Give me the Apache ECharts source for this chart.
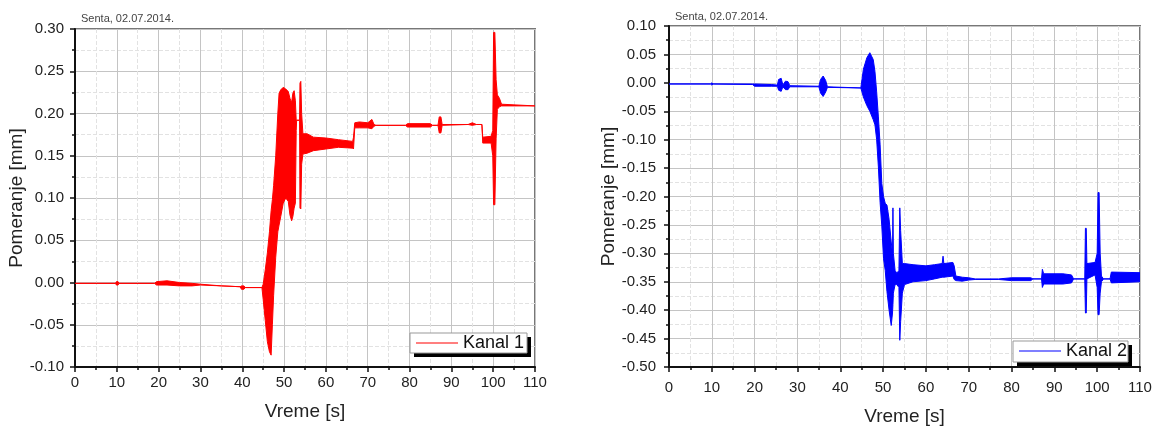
<!DOCTYPE html>
<html>
<head>
<meta charset="utf-8">
<script src="https://cdn.jsdelivr.net/npm/echarts@6/dist/echarts.min.js"></script>
<style>
  html, body { margin: 0; padding: 0; background: #fff; }
  #chart { width: 1158px; height: 431px; }
</style>
</head>
<body>
<div id="chart"></div>
<script>
// Kanal 1: time [s] with upper / lower envelope of the displacement [mm]
const k1Time = [0, 9.7, 9.9, 10.3, 10.5, 19, 19.5, 22, 25, 28, 30, 35, 39.5, 39.8, 40.4, 40.7, 44.7,
  45.0, 45.5, 46.0, 46.5, 46.9, 47.2, 47.5, 48.0, 48.5, 48.8, 49.2, 49.8, 50.4, 51.0, 51.4, 51.8, 52.1, 52.4, 52.7, 52.9,
  53.0, 53.7, 53.8, 54.0, 54.2, 54.5, 55.5, 57, 60, 63, 66.4, 66.6, 66.9, 68, 70, 71, 71.5, 72, 79, 79.5, 85, 85.5,
  86.8, 87.1, 87.5, 87.8, 94, 95, 96, 97.3, 97.5, 99.5, 99.9, 100.1, 100.4, 100.7, 101.0, 101.5, 102, 110];
const k1Upper = [-0.001, -0.001, 0.001, 0.001, -0.001, -0.001, 0.001, 0.002, 0.000, -0.001, -0.002, -0.004, -0.005, -0.004, -0.004, -0.006, -0.006,
  -0.002, 0.015, 0.035, 0.060, 0.085, 0.098, 0.115, 0.150, 0.200, 0.224, 0.228, 0.231, 0.229, 0.226, 0.218, 0.213, 0.224, 0.227, 0.215, 0.192,
  0.192, 0.192, 0.236, 0.238, 0.200, 0.176, 0.176, 0.172, 0.171, 0.169, 0.167, 0.172, 0.189, 0.190, 0.189, 0.193, 0.187, 0.186, 0.186, 0.188, 0.188, 0.186,
  0.186, 0.196, 0.196, 0.187, 0.187, 0.189, 0.187, 0.187, 0.172, 0.173, 0.180, 0.296, 0.296, 0.240, 0.222, 0.218, 0.211, 0.209];
const k1Lower = [-0.001, -0.001, -0.003, -0.003, -0.001, -0.001, -0.003, -0.003, -0.004, -0.004, -0.003, -0.004, -0.005, -0.008, -0.008, -0.006, -0.006,
  -0.020, -0.045, -0.070, -0.082, -0.086, -0.050, -0.015, 0.030, 0.060, 0.068, 0.078, 0.094, 0.100, 0.096, 0.080, 0.073, 0.078, 0.088, 0.094, 0.180,
  0.192, 0.192, 0.088, 0.087, 0.140, 0.152, 0.153, 0.156, 0.158, 0.160, 0.159, 0.158, 0.183, 0.183, 0.183, 0.182, 0.185, 0.186, 0.186, 0.184, 0.184, 0.186,
  0.186, 0.177, 0.177, 0.186, 0.187, 0.186, 0.187, 0.187, 0.165, 0.165, 0.150, 0.092, 0.092, 0.170, 0.205, 0.208, 0.209, 0.209];

// Kanal 2
const k2Time = [0, 9.7, 10, 10.3, 19.5, 20, 24, 25.3, 25.6, 26.2, 26.6, 27.2, 27.8, 28.2, 35.0, 35.4, 36.0, 36.6, 37.0, 44.8,
  45.4, 46.2, 46.9, 47.7, 48.1, 48.5, 48.9, 49.3, 49.7, 50.1, 50.5, 50.9, 51.4, 51.9, 52.2, 52.3, 52.4, 52.8, 53.2, 53.7, 53.9, 54.1, 54.5,
  55, 57, 60, 62, 63.8, 64.0, 64.2, 66.3, 66.6, 67, 68.5, 70, 71.5, 77, 80, 84.5, 85, 87.0, 87.2, 87.5, 92, 94, 94.5,
  97.1, 97.25, 97.45, 97.6, 99.5, 100.0, 100.2, 100.45, 100.7, 101.0, 101.5, 103, 103.3, 110];
const k2Upper = [-0.002, -0.002, 0.000, -0.002, -0.002, -0.002, -0.003, -0.004, 0.006, 0.008, -0.004, 0.003, 0.002, -0.005, -0.006, 0.006, 0.012, 0.004, -0.007, -0.009,
  0.024, 0.044, 0.053, 0.041, 0.020, -0.016, -0.060, -0.108, -0.177, -0.200, -0.212, -0.215, -0.240, -0.280, -0.300, -0.220, -0.300, -0.330, -0.335, -0.330, -0.220, -0.260, -0.318,
  -0.318, -0.320, -0.322, -0.320, -0.318, -0.305, -0.318, -0.316, -0.322, -0.340, -0.342, -0.343, -0.345, -0.345, -0.343, -0.343, -0.345, -0.345, -0.328, -0.336, -0.336, -0.338, -0.345,
  -0.345, -0.256, -0.256, -0.318, -0.316, -0.300, -0.193, -0.193, -0.300, -0.340, -0.345, -0.345, -0.333, -0.334];
const k2Lower = [-0.002, -0.002, -0.004, -0.002, -0.003, -0.006, -0.006, -0.006, -0.013, -0.015, -0.007, -0.012, -0.012, -0.007, -0.007, -0.018, -0.024, -0.016, -0.008, -0.009,
  -0.025, -0.040, -0.050, -0.065, -0.074, -0.100, -0.148, -0.210, -0.252, -0.309, -0.330, -0.367, -0.400, -0.427, -0.405, -0.390, -0.370, -0.355, -0.355, -0.360, -0.453, -0.420, -0.370,
  -0.355, -0.350, -0.348, -0.345, -0.342, -0.342, -0.342, -0.340, -0.346, -0.348, -0.349, -0.347, -0.346, -0.346, -0.348, -0.348, -0.345, -0.345, -0.360, -0.354, -0.354, -0.352, -0.345,
  -0.345, -0.405, -0.405, -0.345, -0.338, -0.360, -0.408, -0.408, -0.370, -0.350, -0.345, -0.345, -0.352, -0.350];

const seriesNames = ['Kanal 1', 'Kanal 2'];
const titleText = 'Senta, 02.07.2014.';
const xRange = [0, 110, 10];
const y1Range = [-0.10, 0.30, 0.05];
const y2Range = [-0.50, 0.10, 0.05];

const font = 'Liberation Sans, Arial, sans-serif';

// filled band between the two envelopes, drawn through the axis scales
const envelope = (times, upper, lower, color) => (params, api) => {
  let pts = [];
  for (let i = 0; i < times.length; i++) pts.push(api.coord([times[i], upper[i]]));
  for (let i = times.length - 1; i >= 0; i--) pts.push(api.coord([times[i], lower[i]]));
  return {
    type: 'polygon',
    shape: { points: pts },
    style: { fill: color, stroke: color, lineWidth: 1 }
  };
};

const xAxisOf = (gridIndex, nameGap, labelMargin) => ({
  type: 'value', gridIndex,
  min: xRange[0], max: xRange[1], interval: xRange[2],
  name: 'Vreme [s]', nameLocation: 'middle', nameGap,
  nameTextStyle: { fontSize: 19, color: '#222', fontFamily: font },
  axisLine: { show: true, onZero: false, lineStyle: { color: '#111', width: 2 } },
  axisTick: { show: true, length: 5, lineStyle: { color: '#111', width: 1.5 } },
  minorTick: { show: true, splitNumber: 2, length: 3, lineStyle: { color: '#111', width: 1.5 } },
  splitLine: { show: true, lineStyle: { color: '#c4c4c4', width: 1 } },
  minorSplitLine: { show: true, lineStyle: { color: '#e2e2e2', type: 'dashed', width: 1 } },
  axisLabel: { fontSize: 15, color: '#222', margin: labelMargin, fontFamily: font }
});

const yAxisOf = (gridIndex, range, nameGap, labelMargin) => ({
  type: 'value', gridIndex,
  min: range[0], max: range[1], interval: range[2],
  name: 'Pomeranje [mm]', nameLocation: 'middle', nameGap,
  nameTextStyle: { fontSize: 19, color: '#222', fontFamily: font },
  axisLine: { show: true, onZero: false, lineStyle: { color: '#111', width: 2 } },
  axisTick: { show: true, length: 5, lineStyle: { color: '#111', width: 1.5 } },
  minorTick: { show: true, splitNumber: 2, length: 3, lineStyle: { color: '#111', width: 1.5 } },
  splitLine: { show: true, lineStyle: { color: '#c4c4c4', width: 1 } },
  minorSplitLine: { show: true, lineStyle: { color: '#e2e2e2', type: 'dashed', width: 1 } },
  axisLabel: { fontSize: 15, color: '#222', margin: labelMargin, fontFamily: font,
    formatter: (v) => v.toFixed(2) }
});

const legendOf = (name, left, top) => ({
  data: [{ name, icon: 'path://M0,0H40V1H0Z' }],
  left, top, z: 100,
  orient: 'vertical',
  itemWidth: 42, itemHeight: 1.5,
  padding: [0, 6, 0, 6],
  textStyle: { fontSize: 18, color: '#111', fontFamily: font, lineHeight: 20 }
});

// legend frame: white box with grey border and a hard black drop shadow
const legendBox = (x, y, w, h) => [
  { type: 'rect', z: 50, shape: { x: x + 4, y: y + 4, width: w, height: h }, style: { fill: '#000' } },
  { type: 'rect', z: 51, shape: { x, y, width: w, height: h }, style: { fill: '#fff', stroke: '#999', lineWidth: 1 } }
];

let chart = echarts.init(document.getElementById('chart'));
chart.setOption({
  animation: false,
  title: [
    { text: titleText, left: 76, top: 8, textStyle: { fontSize: 11, fontWeight: 'normal', color: '#444', fontFamily: font } },
    { text: titleText, left: 670, top: 6, textStyle: { fontSize: 11, fontWeight: 'normal', color: '#444', fontFamily: font } }
  ],
  grid: [
    { left: 75, top: 29, width: 460, height: 338, show: true, borderColor: '#777', borderWidth: 2 },
    { left: 669, top: 26, width: 471, height: 348, show: true, borderColor: '#777', borderWidth: 2 }
  ],
  xAxis: [xAxisOf(0, 35, 8), xAxisOf(1, 40, 13)],
  yAxis: [yAxisOf(0, y1Range, 45, 11), yAxisOf(1, y2Range, 45, 13)],
  legend: [legendOf(seriesNames[0], 410, 333), legendOf(seriesNames[1], 1013, 341)],
  graphic: [...legendBox(410, 333, 117, 20), ...legendBox(1013, 341, 115, 21)],
  series: [
    {
      name: seriesNames[0], type: 'custom', xAxisIndex: 0, yAxisIndex: 0,
      itemStyle: { color: '#ff0000' }, clip: true,
      data: [[k1Time[0], k1Upper[0]]],
      renderItem: envelope(k1Time, k1Upper, k1Lower, '#ff0000')
    },
    {
      name: seriesNames[1], type: 'custom', xAxisIndex: 1, yAxisIndex: 1,
      itemStyle: { color: '#0000ff' }, clip: true,
      data: [[k2Time[0], k2Upper[0]]],
      renderItem: envelope(k2Time, k2Upper, k2Lower, '#0000ff')
    }
  ]
});
</script>
</body>
</html>
